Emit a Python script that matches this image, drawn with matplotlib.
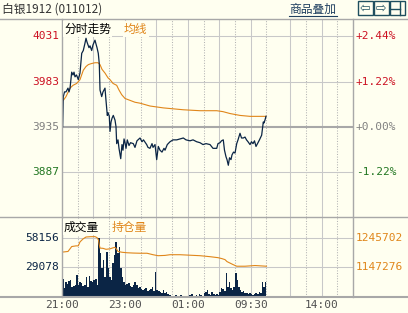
#!/usr/bin/env python3
"""Silver 1912 intraday chart: price / average line on top, volume + open interest below."""
import matplotlib
matplotlib.use("Agg")
import matplotlib.pyplot as plt
import matplotlib.transforms as mtrans
from matplotlib.lines import Line2D
from matplotlib.patches import Rectangle

W, H = 408, 313
BG = "#FFFFF0"
GRID = "#C8C8C8"
FRAME = "#A8A8A8"
NAVY = "#0B2545"
ORANGE = "#E0861A"
RED = "#CC1122"
GREEN = "#227722"
GRAY = "#808080"

CJK = ["Noto Sans CJK SC", "DejaVu Sans"]
MONO = ["DejaVu Sans Mono"]

# trading minutes since 21:00 (night 21:00-02:30, then 09:00-10:15, 10:30-11:30, 13:30-15:00)
SESSION_LEN = 555
GRID_MIN = [0, 30, 60, 90, 120, 150, 180, 210, 240, 270, 300, 330, 360, 390,
            435, 465, 495, 525, 555]
TICK_MIN = [0, 120, 240, 360, 495]
TICK_LBL = ["21:00", "23:00", "01:00", "09:30", "14:00"]

PREV_CLOSE = 3935
PRICE_LEVELS = [4031, 3983, 3935, 3887]
PRICE_LIM = (3839, 4049.5)

price_t = [1.3, 2.5, 4.8, 7.6, 11.4, 13.4, 15.3, 18.5, 21, 22.9, 24.8, 27.7, 31.1,
           34.3, 37.6, 40.6, 43.9, 45.8, 47.7, 49.6, 51.5, 53.4, 56.6, 59.1, 62.9,
           64.8, 66.8, 69.2, 71.1, 72.5, 75.7, 78.2, 82, 83.9, 86.4, 87.7, 90.2,
           91.6, 93.5, 95.4, 97.8, 101.1, 103, 104.3, 106.8, 108.7, 112, 114.4,
           116.3, 118.3, 120.2, 122.1, 124.5, 127.8, 130.7, 136, 139.2, 143, 148.8,
           152.6, 155.4, 161.5, 164, 167.8, 171.7, 173.6, 177.4, 180.6, 183.7,
           186.9, 190.7, 194.5, 196.5, 200.8, 206, 211.7, 218.8, 225.1, 231.4,
           236.5, 244.1, 249.9, 256.9, 263.2, 268.9, 274.7, 282.3, 288, 295.1,
           297.5, 301.4, 304.2, 307.6, 309.9, 312.8, 314.7, 317.2, 319.5, 322.3,
           324.2, 327.1, 330, 333.2, 335.7, 339.5, 342.4, 345.8, 349, 351.9, 354.8,
           358.6, 361.4, 364.3, 367.1, 370, 373.8, 376.6, 380.8, 383.9, 385.2,
           387.1, 389]
price = [3935, 3967, 3972, 3972, 3976, 3972, 3976, 3993, 3990, 3993, 3988, 3990, 3985,
         3992, 4013, 4016, 4024, 4029, 4025, 4022, 4019, 4021, 4016, 4022, 4027,
         4023, 4019, 4013, 4002, 3974, 3967, 3972, 3976, 3963, 3947, 3950, 3946,
         3930, 3940, 3944, 3947, 3942, 3935, 3917, 3921, 3912, 3901, 3916,
         3910, 3922, 3918, 3912, 3921, 3915, 3918, 3917, 3913, 3920, 3923,
         3919, 3921, 3916, 3913, 3912, 3917, 3913, 3916, 3900, 3914,
         3910, 3908, 3912, 3910, 3916, 3919, 3921, 3921, 3922, 3923,
         3921, 3920, 3921, 3919, 3918, 3916, 3917, 3916, 3912, 3912,
         3917, 3918, 3920, 3921, 3910, 3903, 3900, 3894, 3902, 3900,
         3905, 3908, 3907, 3917, 3921, 3928, 3923, 3923, 3924, 3921, 3919,
         3916, 3919, 3917, 3920, 3914, 3918, 3921, 3926, 3940, 3939,
         3942, 3946]

avg_t = [2.5, 7.6, 15.3, 21, 28, 34.3, 40.6, 45.8, 50.2, 55.3, 62.9, 68.7, 72.5,
         76.3, 82, 87.7, 91.6, 97.3, 104.3, 108.7, 113.9, 120.2, 129.7, 139.2,
         148.8, 167.8, 193.2, 231.4, 263.2, 295.1, 307.1, 320.4, 339.5, 358.6, 389]
avg_price = [3963, 3967, 3976, 3979, 3981, 3985, 3995, 3999, 4001, 4002, 4003, 4003,
             4001, 3996, 3992, 3987, 3985, 3981, 3979, 3974, 3969, 3965, 3963, 3961,
             3960, 3957, 3955, 3953, 3952, 3952, 3951, 3949, 3947, 3946, 3946]

# volume in 3-minute bins from 21:00
volume = [17750, 8870, 14790, 12820, 15780, 16760, 9860, 10850, 11830, 21690,
          11830, 14790, 13800, 10850, 11830, 19720, 9860, 20710, 15780, 14790,
          16760, 17750, 11830, 58156, 43380, 28590, 36480, 19720, 44370, 28590,
          19720, 16760, 33520, 41410, 54230, 43380, 49300, 28590, 19720, 14790,
          11830, 12820, 13800, 10850, 9860, 11830, 14790, 11830, 8870, 9860,
          7890, 6900, 7890, 8870, 5920, 6900, 7890, 9860, 5920, 24650,
          6900, 5920, 4930, 3940, 6900, 3940, 4930, 2960, 1970, 990,
          990, 990, 1970, 990, 990, 1970, 990, 990, 990, 990,
          990, 1970, 2960, 990, 990, 1970, 990, 2960, 1970, 990,
          3940, 4930, 6900, 2960, 1970, 4930, 2960, 1970, 2960, 1970,
          4930, 8870, 7890, 5920, 23660, 9860, 14790, 8870, 6900, 9860,
          23660, 16760, 9860, 6900, 4930, 5920, 3940, 3940, 2960, 3940,
          2960, 1970, 2960, 3940, 2960, 4930, 3940, 14790, 9860, 14790]
VOL_BIN = 3
VOL_TOP = 78855

oi_t = [1.3, 11.4, 15.3, 18.5, 26.7, 31.1, 34.3, 40, 45.8, 53.4, 62.9, 66.8, 69.6,
        71.1, 72.5, 78.2, 83.9, 91.6, 97.3, 101.1, 104.9, 106.8, 114.4, 124,
        135.4, 148.8, 162.1, 173.6, 183.1, 196.5, 206, 225.1, 244.1, 263.2, 282.3,
        297.5, 305.2, 310.9, 314.7, 320.4, 326.1, 333.2, 349, 368.1, 377.6, 390]
oi = [1198788, 1200755, 1209615, 1217160, 1219457, 1219457, 1232582, 1242425,
      1248987, 1249971, 1250300, 1247000, 1239140, 1222740, 1211910, 1211250,
      1207980, 1209615, 1212900, 1214540, 1206330, 1200755, 1198130, 1196490,
      1195500, 1194850, 1194850, 1189930, 1186650, 1187630, 1189930, 1189930,
      1188290, 1186650, 1183370, 1180090, 1176800, 1173520, 1166960, 1162040,
      1157120, 1151540, 1151540, 1153840, 1152850, 1151540]
OI_LEVELS = [1245702, 1147276]
OI_LIM = (1048850, 1315760)


def fx(x):
    return x / W


def fy(y):
    return 1 - y / H


def draw_vgrid(ax):
    for k, t in enumerate(GRID_MIN[1:-1], start=1):
        if k % 2 == 0:
            ax.axvline(t, color=GRID, lw=0.75, zorder=0)
        else:
            ax.axvline(t, color="#B4B4B4", lw=0.75, ls=(0, (1, 1.5)), zorder=0)


def setup(ax):
    ax.set_facecolor(BG)
    ax.set_xlim(0, SESSION_LEN)
    for s in ax.spines.values():
        s.set_visible(False)
    ax.set_xticks([])
    ax.set_yticks([])


fig = plt.figure(figsize=(W / 100, H / 100), dpi=100, facecolor=BG)

# ---- price panel
ax = fig.add_axes([fx(62), fy(217), fx(291), 198 / H])
setup(ax)
ax.set_ylim(*PRICE_LIM)
draw_vgrid(ax)
left_tr = mtrans.blended_transform_factory(ax.transAxes, ax.transData)
for lvl in PRICE_LEVELS:
    pct = (lvl - PREV_CLOSE) / PREV_CLOSE * 100
    if lvl > PREV_CLOSE:
        c = RED
    elif lvl < PREV_CLOSE:
        c = GREEN
    else:
        c = GRAY
    if lvl == PREV_CLOSE:
        ax.axhline(lvl, color="#A8A8A8", lw=1.5, zorder=1)
    else:
        ax.axhline(lvl, color=GRID, lw=0.75, zorder=0)
    ax.text(-0.01, lvl, str(lvl), transform=left_tr, ha="right", va="center",
            color=c, fontsize=8, family=MONO)
    ax.text(1.01, lvl, f"{pct:+.2f}%", transform=left_tr, ha="left", va="center",
            color=c, fontsize=8, family=MONO)
ax.plot(avg_t, avg_price, color=ORANGE, lw=0.8, zorder=3)
ax.plot(price_t, price, color=NAVY, lw=0.9, zorder=4)

# ---- volume / open interest panel
axv = fig.add_axes([fx(62), fy(297), fx(291), 80 / H])
setup(axv)
axv.set_ylim(0, VOL_TOP)
draw_vgrid(axv)
vol_max = max(volume)
vleft = mtrans.blended_transform_factory(axv.transAxes, axv.transData)
for v in [vol_max, vol_max // 2]:
    axv.axhline(v, color=GRID, lw=0.75, zorder=0)
    axv.text(-0.01, v, str(v), transform=vleft, ha="right", va="center",
             color=NAVY, fontsize=8, family=MONO)
vx = [VOL_BIN * i + VOL_BIN / 2 for i in range(len(volume))]
axv.bar(vx, volume, width=VOL_BIN, color=NAVY, linewidth=0,
        antialiased=False, zorder=2)

axo = axv.twinx()
axo.set_ylim(*OI_LIM)
axo.set_xlim(0, SESSION_LEN)
axo.axis("off")
axo.plot(oi_t, oi, color=ORANGE, lw=0.8, zorder=3)
oright = mtrans.blended_transform_factory(axo.transAxes, axo.transData)
for v in OI_LEVELS:
    axo.text(1.01, v, str(v), transform=oright, ha="left", va="center",
             color=ORANGE, fontsize=8, family=MONO)

xtr = mtrans.blended_transform_factory(axv.transData, axv.transAxes)
for t, lbl in zip(TICK_MIN, TICK_LBL):
    axv.text(t, -0.1, lbl, transform=xtr, ha="center", va="center",
             color="#505050", fontsize=8, family=MONO)

# ---- frame lines
for y, lw in [(19, 1.0), (217, 1.0), (297, 1.5)]:
    fig.add_artist(Line2D([0, 1], [fy(y), fy(y)], color=FRAME, lw=lw))
for x in [62, 353]:
    fig.add_artist(Line2D([fx(x), fx(x)], [fy(19), fy(297)], color=FRAME, lw=1.0))

# ---- panel captions
box = dict(facecolor=BG, edgecolor="none", pad=1.0)
fig.text(fx(64), fy(29), "分时走势", family=CJK, fontsize=8.5, color="black",
         va="center", bbox=box)
fig.text(fx(124), fy(29), "均线", family=CJK, fontsize=8.5, color=ORANGE,
         va="center", bbox=box)
fig.text(fx(64), fy(227), "成交量", family=CJK, fontsize=8.5, color="black",
         va="center", bbox=box)
fig.text(fx(112), fy(227), "持仓量", family=CJK, fontsize=8.5, color=ORANGE,
         va="center", bbox=box)

# ---- header bar
fig.text(fx(2), fy(9), "白银1912 (011012)", family=CJK, fontsize=8.5,
         color="#333333", va="center")
fig.text(fx(289), fy(9), "商品叠加", family=CJK, fontsize=8.5, color="#1F3F5F",
         va="center")
fig.add_artist(Line2D([fx(289), fx(337)], [fy(16), fy(16)], color="#1F3F5F", lw=0.8))
ICON = "#1F4F5F"
for x0, sym in [(357.5, "⇦"), (373.5, "⇨"), (390, "")]:
    fig.add_artist(Rectangle((fx(x0), fy(15)), 15 / W, 14 / H, transform=fig.transFigure,
                             facecolor=BG, edgecolor=ICON, lw=1.0))
    if sym:
        fig.text(fx(x0 + 7.5), fy(8), sym, ha="center", va="center",
                 fontsize=9, color=ICON, family=["DejaVu Sans"])
fig.add_artist(Line2D([fx(400), fx(400)], [fy(2), fy(15)], color=ICON, lw=1.0))
fig.add_artist(Line2D([fx(391), fx(400)], [fy(8.5), fy(8.5)], color=ICON, lw=1.0))

fig.savefig("out.png", dpi=100, facecolor=BG)
